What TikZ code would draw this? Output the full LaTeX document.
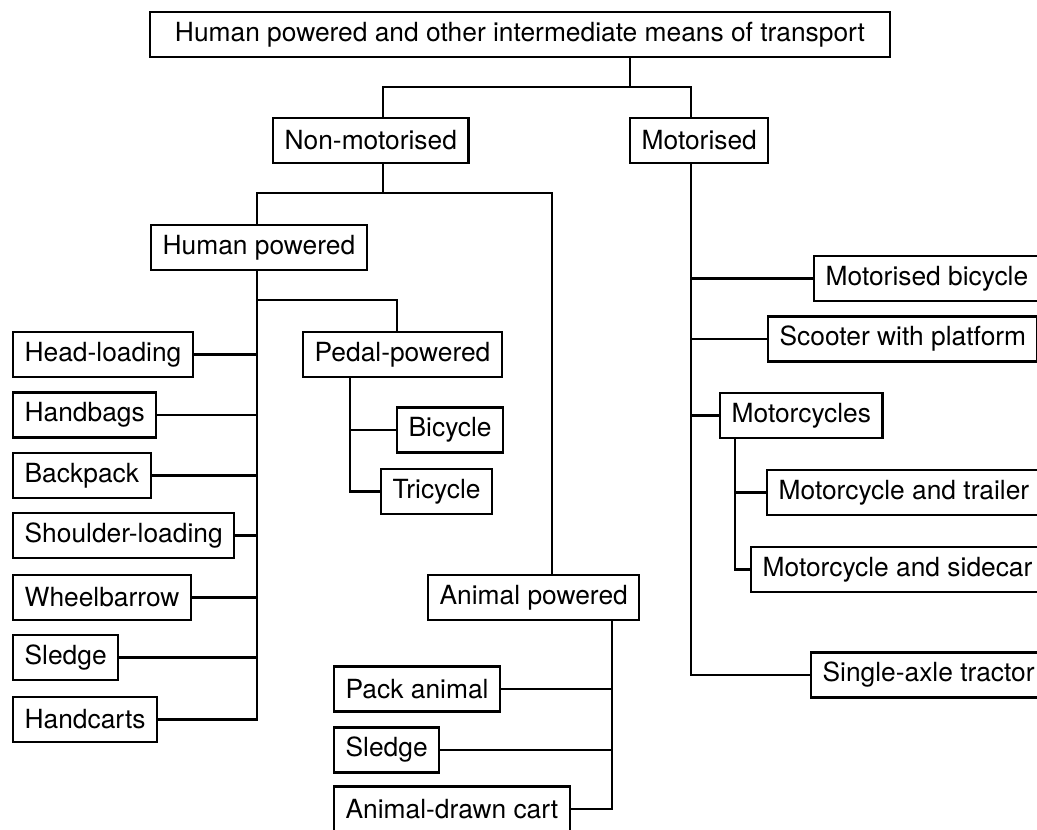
\documentclass[tikz,border=0pt]{standalone}
\usepackage{fontspec}
\setmainfont{TeX Gyre Heros}
\begin{document}
\begin{tikzpicture}[x=0.02cm, y=-0.02cm, line width=1.3pt,
        box/.style={draw, anchor=west, minimum height=0.9cm, inner xsep=0.23cm,
          font=\fontsize{15}{18}\selectfont}]
        \useasboundingbox (0,0) rectangle (1037,829);
        \node[box, anchor=center, minimum width=14.8cm] (top) at (520,34.5)
            {Human powered and other intermediate means of transport};
        \node[box] (nonmot) at (272,140.5) {Non-motorised};
        \node[box] (motor) at (629,140.5) {Motorised};
        \node[box] (human) at (150,247.5) {Human powered};
        \node[box] (pedal) at (302,354.5) {Pedal-powered};
        \node[box] (bicycle) at (396,430) {Bicycle};
        \node[box] (tricycle) at (380,491.5) {Tricycle};
        \node[box] (headl) at (12,354.5) {Head-loading};
        \node[box] (handbags) at (12,415) {Handbags};
        \node[box] (backpack) at (12,475.5) {Backpack};
        \node[box] (shoulder) at (12,535.5) {Shoulder-loading};
        \node[box] (wheel) at (12,597.5) {Wheelbarrow};
        \node[box] (sledgeA) at (12,657.5) {Sledge};
        \node[box] (handcarts) at (12,719.5) {Handcarts};
        \node[box] (animal) at (427,597.5) {Animal powered};
        \node[box] (pack) at (333,689) {Pack animal};
        \node[box] (sledgeB) at (333,750) {Sledge};
        \node[box] (cart) at (333,809) {Animal-drawn cart};
        \node[box] (mbike) at (813,278.5) {Motorised bicycle};
        \node[box] (scooter) at (767,339) {Scooter with platform};
        \node[box] (mcycles) at (719,415.5) {Motorcycles};
        \node[box] (mtrailer) at (766,492.5) {Motorcycle and trailer};
        \node[box] (msidecar) at (750,569.5) {Motorcycle and sidecar};
        \node[box] (tractor) at (810,675) {Single-axle tractor};
        % junction points
        \coordinate (j0) at (630,87);
        \coordinate (a1) at (383,87);
        \coordinate (a2) at (691,87);
        \coordinate (b0) at (383,193);
        \coordinate (b1) at (257,193);
        \coordinate (b2) at (552,193);
        \coordinate (c0) at (257,300);
        \coordinate (c1) at (397,300);
        \coordinate (d0) at (350,0);
        \coordinate (e0) at (612,0);
        \coordinate (f0) at (735,0);
        % top level
        \draw (top.south -| j0) -- (j0);
        \draw (nonmot.north -| a1) -- (a1) -- (a2) -- (motor.north -| a2);
        % non-motorised
        \draw (nonmot.south -| b0) -- (b0);
        \draw (human.north -| b1) -- (b1) -- (b2) -- (animal.north -| b2);
        % human powered
        \draw (human.south -| b1) -- (handcarts.east -| b1) -- (handcarts.east);
        \foreach \n in {headl,handbags,backpack,shoulder,wheel,sledgeA}
            \draw (\n.east) -- (\n.east -| b1);
        \draw (c0) -- (c1) -- (pedal.north -| c1);
        % pedal-powered
        \draw (pedal.south -| d0) -- (tricycle.west -| d0) -- (tricycle.west);
        \draw (bicycle.west) -- (bicycle.west -| d0);
        % animal powered
        \draw (animal.south -| e0) -- (cart.east -| e0) -- (cart.east);
        \foreach \n in {pack,sledgeB}
            \draw (\n.east) -- (\n.east -| e0);
        % motorised
        \draw (motor.south -| a2) -- (tractor.west -| a2) -- (tractor.west);
        \foreach \n in {mbike,scooter,mcycles}
            \draw (\n.west) -- (\n.west -| a2);
        \draw (mcycles.south -| f0) -- (msidecar.west -| f0) -- (msidecar.west);
        \draw (mtrailer.west) -- (mtrailer.west -| f0);
\end{tikzpicture}
\end{document}
